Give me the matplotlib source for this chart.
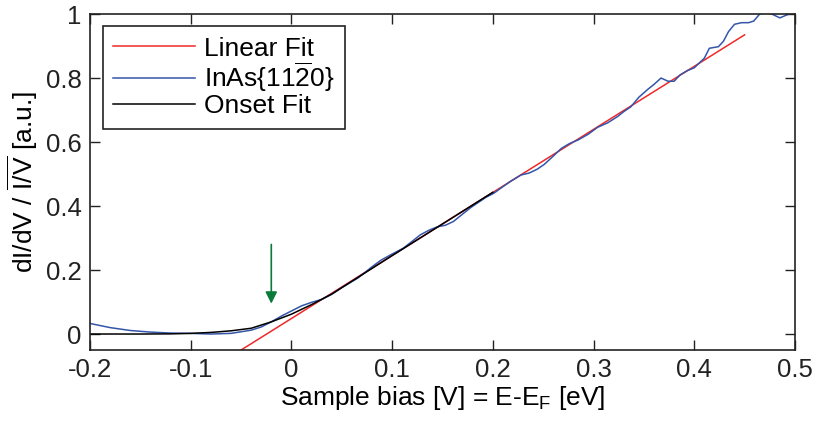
import matplotlib
matplotlib.use('Agg')
from matplotlib import pyplot as plt

plt.rcParams['font.family'] = ['Liberation Sans', 'DejaVu Sans']
plt.rcParams['mathtext.fontset'] = 'custom'
plt.rcParams['mathtext.rm'] = 'Liberation Sans'
plt.rcParams['mathtext.it'] = 'Liberation Sans:italic'

bias = [-0.2, -0.18, -0.16, -0.14, -0.12, -0.10, -0.08, -0.06, -0.04, -0.03,
        -0.02, -0.01, 0.0, 0.01, 0.02, 0.03, 0.04, 0.05, 0.066, 0.08,
        0.089, 0.1, 0.111, 0.12, 0.128, 0.137, 0.145, 0.153, 0.161, 0.17,
        0.178, 0.185, 0.193, 0.201, 0.208, 0.218, 0.228, 0.236, 0.244, 0.251,
        0.26, 0.268, 0.276, 0.285, 0.295, 0.304, 0.314, 0.324, 0.33, 0.337,
        0.345, 0.354, 0.36, 0.367, 0.374, 0.38, 0.386, 0.393, 0.40, 0.41,
        0.415, 0.424, 0.429, 0.434, 0.44, 0.447, 0.454, 0.459, 0.465, 0.47,
        0.477, 0.485, 0.494, 0.5]
didv = [0.033, 0.02, 0.011, 0.006, 0.003, 0.002, 0.0, 0.002, 0.012, 0.022,
        0.038, 0.056, 0.072, 0.088, 0.099, 0.108, 0.124, 0.145, 0.175, 0.21,
        0.231, 0.25, 0.268, 0.29, 0.31, 0.325, 0.335, 0.34, 0.352, 0.375,
        0.395, 0.41, 0.427, 0.44, 0.456, 0.478, 0.497, 0.503, 0.515, 0.53,
        0.556, 0.58, 0.595, 0.607, 0.625, 0.646, 0.66, 0.68, 0.695, 0.71,
        0.74, 0.765, 0.78, 0.80, 0.79, 0.79, 0.81, 0.823, 0.832, 0.862,
        0.893, 0.898, 0.915, 0.945, 0.968, 0.973, 0.973, 0.978, 1.0, 1.005,
        1.0, 0.988, 1.0, 1.005]

# linear fit end points
lin_x = [-0.05, 0.45]
lin_y = [-0.05, 0.935]

# onset fit
onset_x = [-0.2, -0.15, -0.12, -0.1, -0.08, -0.06, -0.04, -0.02, 0.0, 0.02,
           0.04, 0.06, 0.08, 0.1, 0.15, 0.2]
onset_y = [0.0, 0.0, 0.0005, 0.002, 0.005, 0.01, 0.018, 0.038, 0.062, 0.092,
           0.125, 0.165, 0.205, 0.245, 0.344, 0.443]

# onset marker arrow
arrow_x = -0.02
arrow_top = 0.28
arrow_tip = 0.095

fig = plt.figure(figsize=(8.14, 4.28), dpi=100)
ax = fig.add_axes([0.1106, 0.1822, 0.866, 0.785])

ax.plot(lin_x, lin_y, color='#f02828', lw=1.1, label='Linear Fit')
ax.plot(bias, didv, color='#3355aa', lw=1.1, label=r'InAs{11$\overline{\mathrm{2}}$0}')
ax.plot(onset_x, onset_y, color='black', lw=1.1, label='Onset Fit')

ax.annotate('', xy=(arrow_x, arrow_tip), xytext=(arrow_x, arrow_top),
            arrowprops=dict(arrowstyle='-|>,head_length=0.7,head_width=0.35',
                            color='#0a7a3a', lw=1.2, shrinkA=0, shrinkB=0))

ax.set_xlim(-0.2, 0.5)
ax.set_ylim(-0.05, 1.0)
ax.set_xticks([-0.2, -0.1, 0, 0.1, 0.2, 0.3, 0.4, 0.5])
ax.set_xticklabels(['-0.2', '-0.1', '0', '0.1', '0.2', '0.3', '0.4', '0.5'])
ax.set_yticks([0, 0.2, 0.4, 0.6, 0.8, 1])
ax.set_yticklabels(['0', '0.2', '0.4', '0.6', '0.8', '1'])
ax.tick_params(direction='in', top=True, right=True, length=7, width=1,
               labelsize=18.5, pad=6, colors='#222222')
for sp in ax.spines.values():
    sp.set_linewidth(1.2)
    sp.set_color('#222222')

ax.set_xlabel(r'Sample bias [V] = E-E$_\mathrm{F}$ [eV]', fontsize=19, labelpad=1)
ax.set_ylabel(r'dI/dV / $\overline{\mathrm{I/V}}$ [a.u.]', fontsize=19, labelpad=4)

leg = ax.legend(loc='upper left', bbox_to_anchor=(0.018, 0.964), fontsize=19,
                handlelength=3.1, handletextpad=0.35, borderpad=0.4,
                labelspacing=0.0, fancybox=False, framealpha=1,
                borderaxespad=0)
leg.get_frame().set_edgecolor('#222222')
leg.get_frame().set_linewidth(1.2)

fig.savefig('out.png', dpi=100)
